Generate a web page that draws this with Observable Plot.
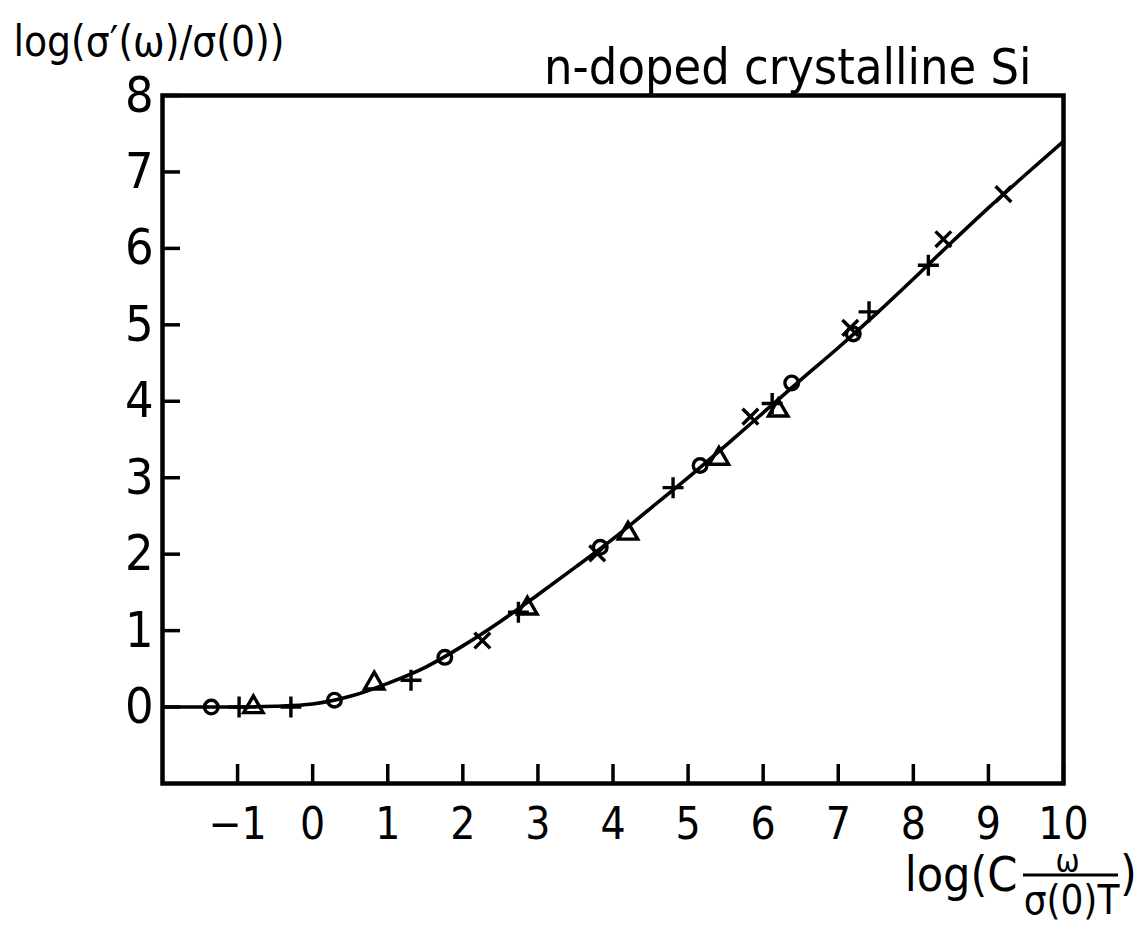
<!DOCTYPE html>
<html><head><meta charset="utf-8">
<script src="https://cdn.jsdelivr.net/npm/d3@7"></script>
<script src="https://cdn.jsdelivr.net/npm/@observablehq/plot@0.6"></script>
<style>html,body{margin:0;padding:0;background:#fff}</style>
</head><body><div id="chart"></div>
<script>
const xTicks = [-1, 0, 1, 2, 3, 4, 5, 6, 7, 8, 9, 10];
const yTicks = [0, 1, 2, 3, 4, 5, 6, 7, 8];

const curveX = [-2, -1, -0.5, 0, 0.5, 1, 1.5, 2, 2.5, 3, 3.5, 4, 4.5, 5, 5.5, 6, 6.5, 7, 7.5, 8, 8.5, 9, 9.5, 10];
const curveY = [0, 0, 0.01, 0.04, 0.14, 0.31, 0.52, 0.8, 1.12, 1.47, 1.83, 2.2, 2.6, 3.0, 3.42, 3.85, 4.28, 4.7, 5.14, 5.6, 6.07, 6.53, 6.97, 7.4];

const circleX = [-1.35, 0.29, 1.76, 3.83, 5.16, 6.38, 7.2];
const circleY = [0, 0.09, 0.65, 2.09, 3.16, 4.24, 4.88];
const plusX = [-0.98, -0.29, 1.31, 2.74, 4.8, 6.12, 7.41, 8.2];
const plusY = [0, 0, 0.35, 1.24, 2.87, 3.97, 5.17, 5.78];
const triangleX = [-0.79, 0.82, 2.86, 4.2, 5.41, 6.2];
const triangleY = [0, 0.31, 1.29, 2.27, 3.25, 3.88];
const crossX = [2.26, 3.79, 5.83, 7.16, 8.4, 9.2];
const crossY = [0.87, 2.01, 3.8, 4.96, 6.12, 6.71];

const yLabel = "log(σ′(ω)/σ(0))";
const title = "n-doped crystalline Si";
const xLabelLeft = "log(C";
const xLabelNum = "ω";
const xLabelDen = "σ(0)T";
const xLabelRight = ")";

const W = 1144, H = 934, mL = 162, mR = 81, mT = 95, mB = 151;
const fw = W - mL - mR, fh = H - mT - mB;
const font = '"DejaVu Sans Condensed", "DejaVu Sans", sans-serif';

const pts = (xs, ys) => xs.map((x, i) => ({x, y: ys[i]}));
const dotOpts = (symbol, r) => ({x: "x", y: "y", symbol, r, stroke: "black", strokeWidth: 3.4, fill: "none"});

const chart = Plot.plot({
  width: W, height: H,
  marginLeft: mL, marginRight: mR, marginTop: mT, marginBottom: mB,
  x: {domain: [-2, 10]},
  y: {domain: [-1, 8]},
  style: {fontFamily: font, fontStretch: "condensed", color: "black", background: "white"},
  marks: [
    Plot.tickX(xTicks, {x: d => d, insetTop: fh - 19, strokeWidth: 3.5}),
    Plot.tickY(yTicks, {y: d => d, insetRight: fw - 18, strokeWidth: 3.5}),
    Plot.axisX(xTicks, {tickSize: 0, tickPadding: 24, fontSize: 44, label: null, tickFormat: d3.format("d")}),
    Plot.axisY(yTicks, {tickSize: 0, tickPadding: 9, fontSize: 50, label: null, tickFormat: d3.format("d")}),
    Plot.line(pts(curveX, curveY), {x: "x", y: "y", curve: "monotone-x", strokeWidth: 3.6, stroke: "black"}),
    Plot.dot(pts(circleX, circleY), dotOpts("circle", 6.8)),
    Plot.dot(pts(plusX, plusY), dotOpts("plus", 6.8)),
    Plot.dot(pts(triangleX, triangleY), dotOpts("triangle", 7.2)),
    Plot.dot(pts(crossX, crossY), dotOpts("times", 7.2)),
    Plot.frame({strokeWidth: 4.5, stroke: "black"}),
    Plot.text([yLabel], {text: d => d, frameAnchor: "top-left", dx: -149, dy: -40, textAnchor: "start", lineAnchor: "bottom", fontSize: 42}),
    Plot.text([title], {text: d => d, frameAnchor: "top-right", dx: -32, dy: -12, textAnchor: "end", lineAnchor: "bottom", fontSize: 50}),
    Plot.text([xLabelLeft], {text: d => d, frameAnchor: "bottom-right", dx: -46, dy: 107, textAnchor: "end", lineAnchor: "bottom", fontSize: 48}),
    Plot.text([xLabelNum], {text: d => d, frameAnchor: "bottom-right", dx: 4, dy: 88, textAnchor: "middle", lineAnchor: "bottom", fontSize: 32}),
    Plot.text([xLabelDen], {text: d => d, frameAnchor: "bottom-right", dx: 8, dy: 130, textAnchor: "middle", lineAnchor: "bottom", fontSize: 40}),
    Plot.text([xLabelRight], {text: d => d, frameAnchor: "bottom-right", dx: 65, dy: 106, textAnchor: "middle", lineAnchor: "bottom", fontSize: 48})
  ]
});

// fraction bar of the x-axis label
d3.select(chart).append("line")
  .attr("x1", W - mR - 40).attr("x2", W - mR + 55)
  .attr("y1", H - mB + 92).attr("y2", H - mB + 92)
  .attr("stroke", "black").attr("stroke-width", 3);

document.getElementById("chart").appendChild(chart);
</script>
</body></html>
